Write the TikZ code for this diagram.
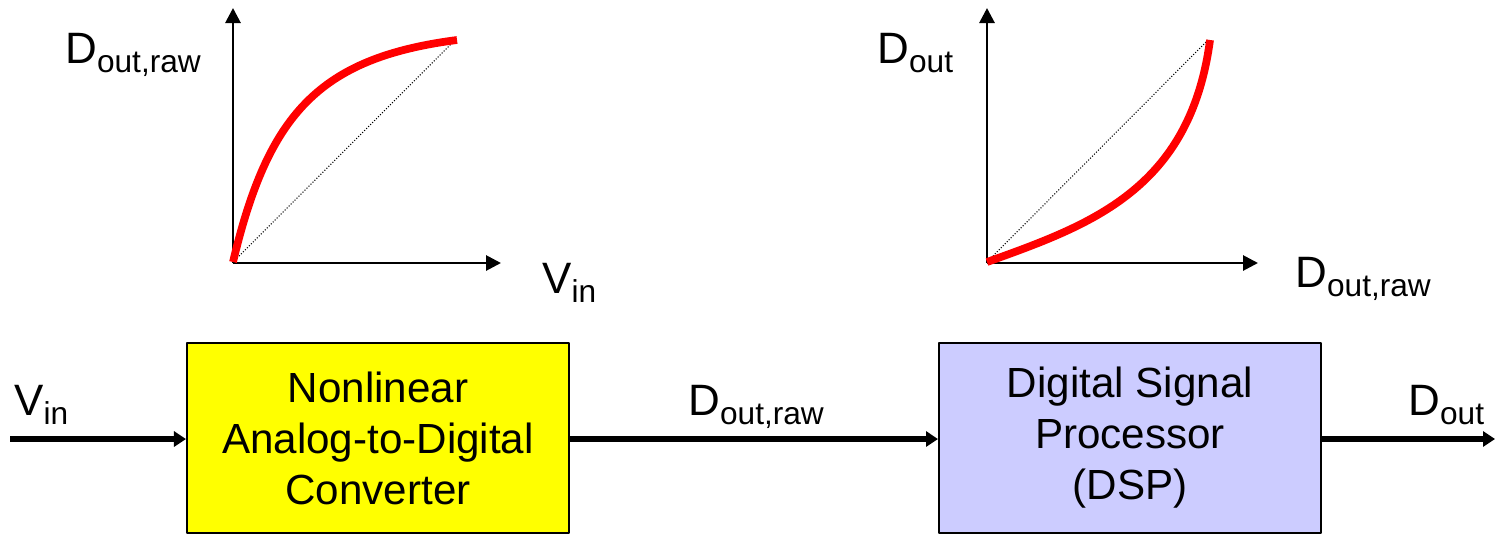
\documentclass[tikz,border=0pt]{standalone}
\usepackage{fontspec}
\setmainfont{Liberation Sans}
\usetikzlibrary{arrows.meta}
\definecolor{adcyellow}{RGB}{255,255,0}
\definecolor{dsplilac}{RGB}{204,204,255}
\newcommand{\lowsub}[1]{\raisebox{-0.19cm}{\fontsize{18}{18}\selectfont #1}}
\tikzset{
	block/.style={draw=black, line width=1.2pt, minimum width=7.64cm, minimum height=3.8cm, align=center, inner sep=0pt},
	sig/.style={line width=3.2pt, -{Triangle[length=0.24cm,width=0.3cm]}},
	axis/.style={line width=1.6pt, -{Triangle[length=0.3cm,width=0.3cm]}},
	curve/.style={red, line width=4.4pt},
	diag/.style={densely dotted, line width=0.6pt},
	lbl/.style={anchor=base west, inner sep=0pt, font=\fontsize{25}{30}\selectfont}
}
\begin{document}
\begin{tikzpicture}[x=0.02cm, y=-0.02cm, font=\fontsize{24}{29}\selectfont, line join=round]
			\useasboundingbox (0,0) rectangle (1496,535);
			\draw[axis] (233,263)--(233,8);
			\draw[axis] (233,263)--(501,263);
			\draw[diag] (233,262)--(455,40);
			\draw[curve] (233,262) .. controls (268,115) and (318,58) .. (457,40);
			\node[lbl] (ylabA) at (65,63) {D\lowsub{out,raw}};
			\node[lbl] (xlabA) at (542,293) {V\lowsub{in}};
			\draw[axis] (987,263)--(987,8);
			\draw[axis] (987,263)--(1258,263);
			\draw[diag] (987,262)--(1208,40);
			\draw[curve] (987,262) .. controls (1090,225) and (1190,190) .. (1210,40);
			\node[lbl] (ylabB) at (877,63) {D\lowsub{out}};
			\node[lbl] (xlabB) at (1295,287) {D\lowsub{out,raw}};
			\node[block, fill=adcyellow] (adc) at (378,438) {Nonlinear\\Analog-to-Digital\\Converter};
			\node[block, fill=dsplilac] (dsp) at (1130,438) {Digital Signal\\Processor\\(DSP)};
			\coordinate (vin) at (10,439);
			\coordinate (vout) at (1495,439);
			\draw[sig] (vin)--(vin-|adc.west);
			\draw[sig] (adc.east|-vin)--(dsp.west|-vin);
			\draw[sig] (dsp.east|-vin)--(vout);
			\node[lbl] (vinlbl) at (14,415) {V\lowsub{in}};
			\node[lbl] (rawlbl) at (688,415) {D\lowsub{out,raw}};
			\node[lbl] (outlbl) at (1408,415) {D\lowsub{out}};
		\end{tikzpicture}
\end{document}
